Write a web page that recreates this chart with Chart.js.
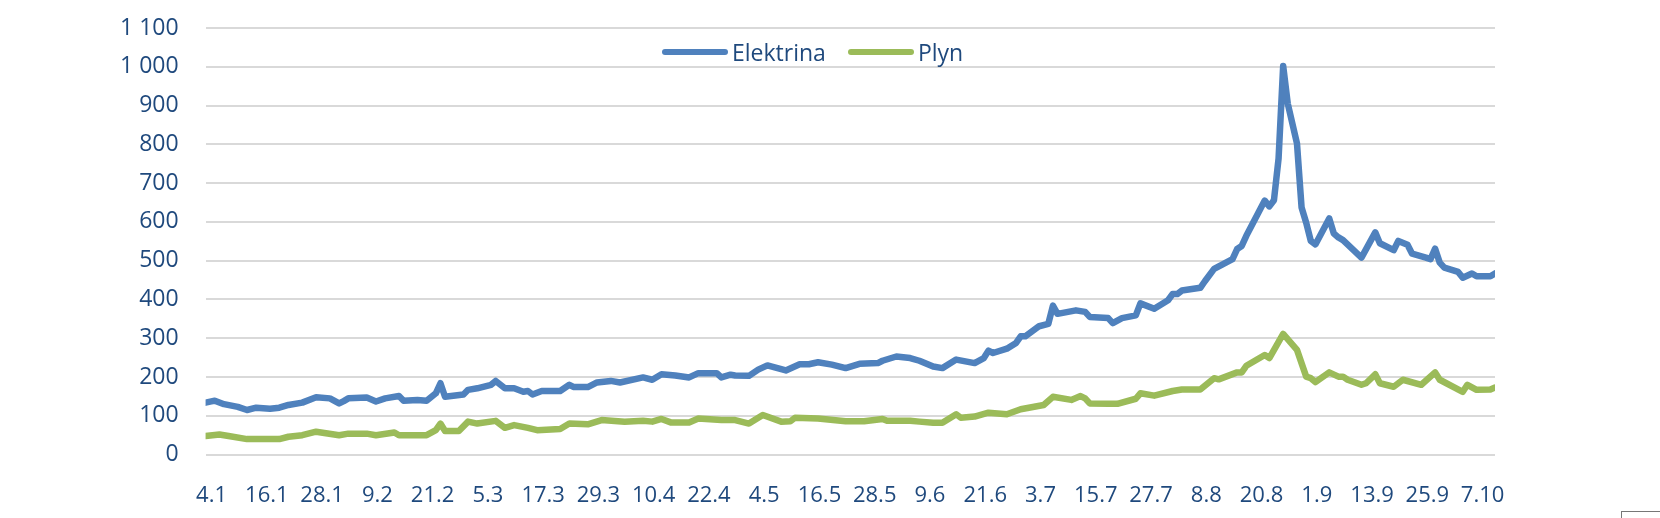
<!DOCTYPE html>
<html>
<head>
<meta charset="utf-8">
<script src="https://cdn.jsdelivr.net/npm/chart.js@4/dist/chart.umd.min.js"></script>
<style>
  body { margin: 0; background: #fff; }
  #wrap { position: relative; width: 1660px; height: 518px; }
  #corner { position: absolute; left: 1621px; top: 511px; width: 60px; height: 20px;
            border-left: 1px solid #777; border-top: 1px solid #777; }
  #legend { position: absolute; left: 662px; top: 38px; display: flex; height: 28px; align-items: center;
            font-family: 'Open Sans'; font-size: 23px; color: #1f497d; }
  #legend .item { display: flex; align-items: center; margin-right: 22px; }
  #legend .swatch { width: 66px; height: 6px; border-radius: 3px; margin-right: 4px; }
</style>
</head>
<body>
<div id="wrap">
  <canvas id="prices" width="1660" height="518"></canvas>
  <div id="legend"></div>
  <div id="corner"></div>
</div>
<script>
// day index counted from 4.1.
var tickLabels = ['4.1', '16.1', '28.1', '9.2', '21.2', '5.3', '17.3', '29.3', '10.4', '22.4', '4.5', '16.5',
  '28.5', '9.6', '21.6', '3.7', '15.7', '27.7', '8.8', '20.8', '1.9', '13.9', '25.9', '7.10'];

var elecDays = [
  0, 2, 4, 7, 9, 11, 14, 16, 18, 21,
  24, 27, 29, 30, 31, 35, 37, 39, 42, 43,
  46, 48, 50, 51, 52, 56, 57, 59, 62, 63,
  65, 67, 69, 70, 71, 73, 77, 79, 80, 83,
  85, 88, 90, 95, 97, 99, 102, 105, 107, 111,
  112, 114, 115, 118, 120, 122, 126, 129, 131, 133,
  136, 139, 142, 146, 147, 150, 153, 155, 158, 160,
  163, 167, 169, 170, 171, 174, 176, 177, 178, 181,
  183, 184, 185, 189, 191, 192, 196, 197, 199, 202,
  203, 206, 209, 210, 211, 212, 216, 217, 219, 223,
  224, 225, 226, 230, 231, 232, 233, 234, 235, 237,
  238, 239, 240, 241, 244, 245, 246, 247, 251, 254,
  255, 258, 259, 261, 262, 265, 266, 267, 268, 269,
  272, 273, 275, 276, 279, 280];
var elecValues = [
  134, 139, 130, 123, 115, 121, 118, 121, 128, 134,
  148, 145, 132, 138, 145, 147, 137, 145, 151, 139,
  141, 139, 158, 184, 149, 155, 167, 171, 180, 190,
  171, 171, 162, 164, 155, 164, 164, 180, 174, 174,
  186, 190, 186, 199, 193, 207, 204, 199, 210, 210,
  199, 206, 204, 203, 219, 230, 217, 233, 233, 238,
  232, 223, 234, 236, 242, 253, 249, 242, 227, 223,
  245, 236, 249, 268, 262, 273, 288, 305, 305, 331,
  337, 384, 363, 372, 368, 355, 352, 339, 352, 359,
  390, 376, 398, 414, 414, 423, 430, 447, 479, 504,
  530, 538, 564, 655, 640, 656, 763, 1002, 905, 802,
  637, 598, 551, 542, 609, 570, 560, 553, 508, 573,
  545, 527, 551, 541, 518, 508, 504, 531, 495, 482,
  471, 456, 467, 460, 460, 467];

var gasDays = [
  0, 3, 5, 9, 16, 18, 21, 24, 29, 31,
  35, 37, 41, 42, 46, 48, 50, 51, 52, 55,
  57, 59, 63, 65, 67, 70, 72, 77, 79, 83,
  86, 91, 95, 97, 99, 101, 105, 107, 112, 115,
  118, 121, 125, 127, 128, 133, 139, 143, 147, 148,
  153, 155, 158, 160, 163, 164, 167, 170, 174, 177,
  182, 184, 188, 190, 191, 192, 196, 198, 202, 203,
  206, 210, 212, 216, 219, 220, 224, 225, 226, 230,
  231, 234, 237, 239, 240, 241, 244, 246, 247, 248,
  251, 252, 254, 255, 258, 260, 264, 267, 268, 273,
  274, 276, 279, 280];
var gasValues = [
  48, 52, 48, 40, 40, 46, 50, 59, 50, 54,
  54, 50, 57, 50, 50, 50, 63, 80, 61, 61,
  85, 80, 87, 69, 76, 69, 63, 66, 80, 78,
  89, 85, 87, 85, 92, 83, 83, 93, 89, 89,
  80, 102, 85, 86, 95, 93, 86, 86, 92, 87,
  87, 85, 82, 82, 104, 95, 98, 108, 104, 117,
  128, 149, 141, 151, 145, 132, 131, 131, 144, 158,
  152, 164, 168, 168, 197, 194, 212, 212, 229, 257,
  249, 311, 270, 201, 197, 187, 212, 201, 201, 193,
  180, 184, 207, 184, 175, 193, 180, 212, 193, 162,
  180, 167, 168, 173];

var textColor = '#1f497d';

function points(days, values) {
  return days.map(function (d, i) { return { x: d, y: values[i] }; });
}

var chart = new Chart(document.getElementById('prices'), {
  type: 'line',
  data: {
    datasets: [{
      label: 'Elektrina',
      data: points(elecDays, elecValues),
      borderColor: '#4f81bd',
      backgroundColor: '#4f81bd',
      borderWidth: 6.5,
      borderCapStyle: 'round',
      borderJoinStyle: 'round',
      pointRadius: 0,
      tension: 0
    }, {
      label: 'Plyn',
      data: points(gasDays, gasValues),
      borderColor: '#9bbb59',
      backgroundColor: '#9bbb59',
      borderWidth: 6.5,
      borderCapStyle: 'round',
      borderJoinStyle: 'round',
      pointRadius: 0,
      tension: 0
    }]
  },
  options: {
    responsive: false,
    animation: false,
    layout: { padding: { left: 93, right: 165, top: 28, bottom: -19 } },
    plugins: {
      legend: { display: false },
      tooltip: { enabled: false }
    },
    scales: {
      x: {
        type: 'linear',
        min: 0,
        max: 280,
        grid: { display: false, drawTicks: false },
        border: { display: false },
        ticks: {
          stepSize: 12,
          maxTicksLimit: 30,
          includeBounds: false,
          autoSkip: false,
          maxRotation: 0,
          padding: 28,
          labelOffset: 6,
          color: textColor,
          font: { family: 'Open Sans', size: 22 },
          callback: function (v) { return tickLabels[v / 12]; }
        }
      },
      y: {
        min: 0,
        max: 1100,
        grid: { color: '#d9d9d9', lineWidth: 2, drawTicks: false },
        border: { display: false },
        afterFit: function (scale) {
          // keep the top of the plot at the layout padding
          scale.paddingTop = 0;
        },
        ticks: {
          stepSize: 100,
          padding: 27,
          color: textColor,
          font: { family: 'Open Sans', size: 23 },
          callback: function (v) {
            return v >= 1000 ? Math.floor(v / 1000) + ' ' + String(v % 1000).padStart(3, '0') : String(v);
          }
        }
      }
    }
  }
});

// legend drawn as html, from the datasets
var legendBox = document.getElementById('legend');
chart.data.datasets.forEach(function (ds) {
  var item = document.createElement('div');
  item.className = 'item';
  var sw = document.createElement('span');
  sw.className = 'swatch';
  sw.style.background = ds.borderColor;
  var txt = document.createElement('span');
  txt.textContent = ds.label;
  item.appendChild(sw);
  item.appendChild(txt);
  legendBox.appendChild(item);
});
</script>
</body>
</html>
